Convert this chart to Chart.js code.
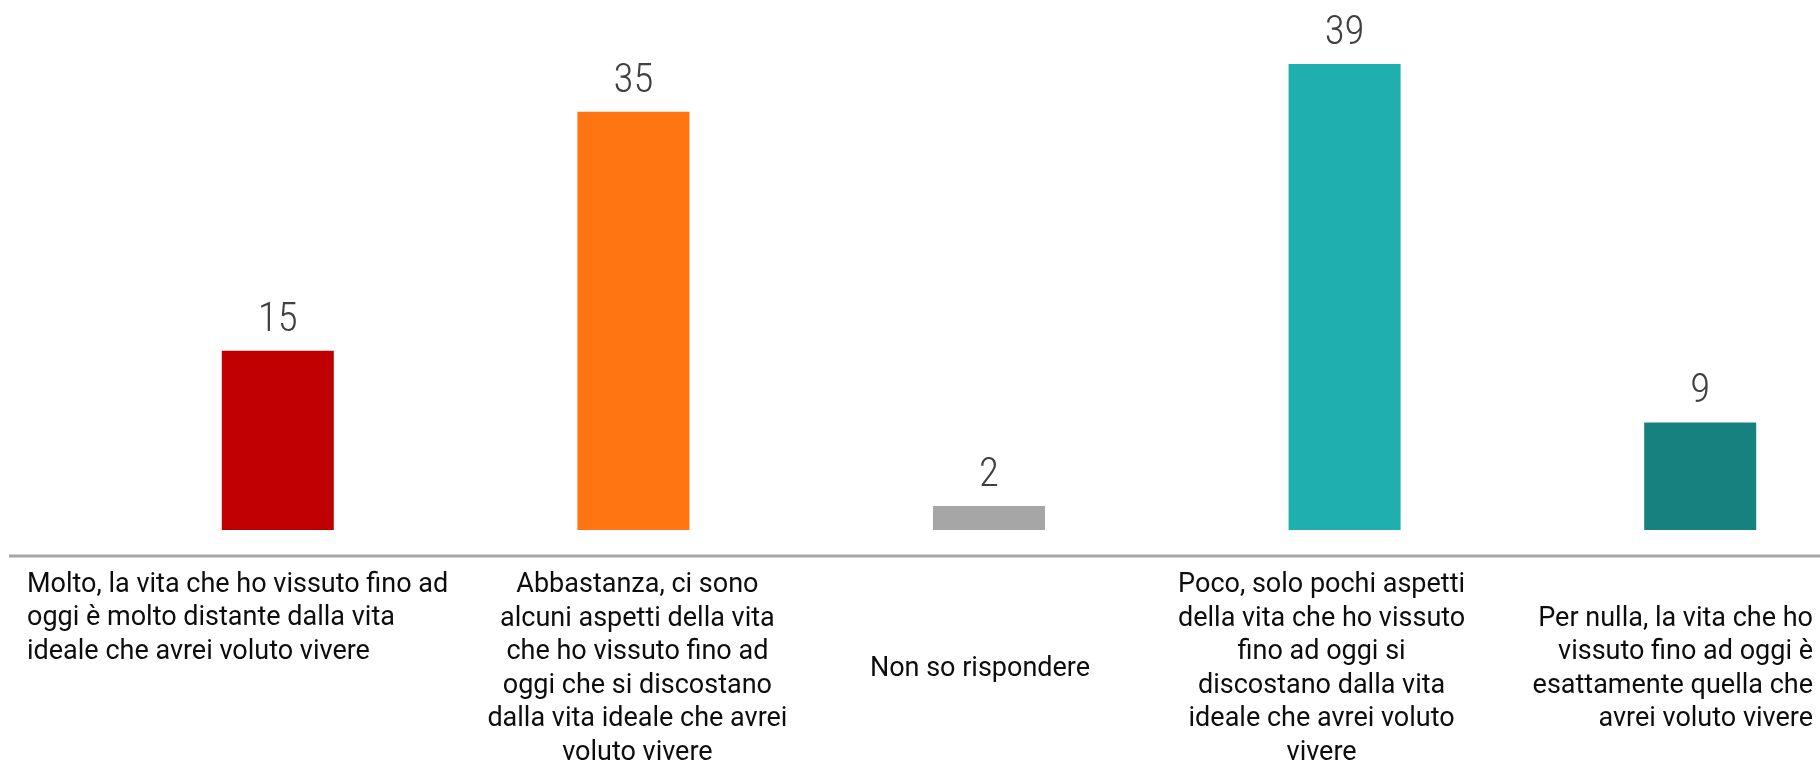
<!DOCTYPE html>
<html>
<head>
<meta charset="utf-8">
<script src="https://cdn.jsdelivr.net/npm/chart.js@4.4.0/dist/chart.umd.min.js"></script>
<style>
  html, body { margin: 0; padding: 0; background: #fff; overflow: hidden; }
  #wrap { width: 1820px; height: 763px; overflow: hidden; }
</style>
</head>
<body>
<div id="wrap"><canvas id="barChart" width="1900" height="763"></canvas></div>
<script>
// categories, already split into lines as in the picture
const categories = [
    ['Molto, la vita che ho vissuto fino ad', 'oggi è molto distante dalla vita', 'ideale che avrei voluto vivere'],
    ['Abbastanza, ci sono', 'alcuni aspetti della vita', 'che ho vissuto fino ad', 'oggi che si discostano', 'dalla vita ideale che avrei', 'voluto vivere'],
    ['Non so rispondere'],
    ['Poco, solo pochi aspetti', 'della vita che ho vissuto', 'fino ad oggi si', 'discostano dalla vita', 'ideale che avrei voluto', 'vivere'],
    ['Per nulla, la vita che ho', 'vissuto fino ad oggi è', 'esattamente quella che', 'avrei voluto vivere']
]
const values = [15, 35, 2, 39, 9]
const barColors = ['#C00000', '#FF7511', '#A6A6A6', '#1FAFAE', '#17817F']

// value labels above bars + category labels + base line
const labelsPlugin = {
    id: 'labelsPlugin',
    afterDatasetsDraw(chart) {
        const ctx = chart.ctx
        const meta = chart.getDatasetMeta(0)
        const xScale = chart.scales.x
        const bottom = chart.chartArea.bottom

        ctx.save()
        // base line
        ctx.strokeStyle = '#A6A6A6'
        ctx.lineWidth = 3
        ctx.beginPath()
        ctx.moveTo(9, bottom)
        ctx.lineTo(chart.width, bottom)
        ctx.stroke()

        // values
        ctx.fillStyle = '#404040'
        ctx.font = '300 41px "Roboto Condensed", Roboto, sans-serif'
        ctx.textAlign = 'center'
        ctx.textBaseline = 'alphabetic'
        meta.data.forEach((bar, i) => {
            ctx.fillText(String(values[i]), bar.x, bar.y - 20)
        })

        // category labels
        ctx.fillStyle = '#0D0D0D'
        ctx.font = '27px Roboto, sans-serif'
        ctx.textBaseline = 'middle'
        const lineH = 33.5
        const nudge = [0, 4, -9, -23, 0]
        categories.forEach((lines, i) => {
            let x = xScale.getPixelForValue(i) + nudge[i]
            let y0 = bottom + 113 - (lines.length - 1) / 2 * lineH
            ctx.textAlign = 'center'
            if (i === 0) {
                ctx.textAlign = 'left'
                x = 27
                y0 = bottom + 29
            } else if (i === categories.length - 1) {
                ctx.textAlign = 'right'
                x = 1813
            }
            lines.forEach((t, k) => ctx.fillText(t, x, y0 + k * lineH))
        })
        ctx.restore()
    }
}

const barChart = new Chart(
    document.getElementById('barChart').getContext('2d'), {
    type: 'bar',
    data: {
        labels: categories,
        datasets: [{
            data: values,
            backgroundColor: barColors,
            borderWidth: 0,
            categoryPercentage: 0.315,
            barPercentage: 1
        }]
    },
    options: {
        responsive: false,
        animation: false,
        layout: {
            padding: { left: 100, right: 22, top: 0, bottom: 207 }
        },
        plugins: {
            legend: { display: false },
            tooltip: { enabled: false }
        },
        scales: {
            x: { display: false },
            y: { display: false, min: -2.18, max: 44.35 }
        }
    },
    plugins: [labelsPlugin]
}
);
</script>
</body>
</html>
